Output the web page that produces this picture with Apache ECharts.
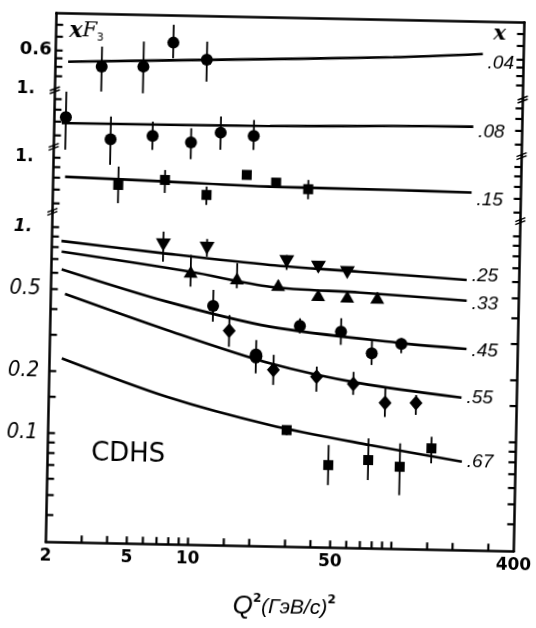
<!DOCTYPE html>
<html><head><meta charset="utf-8">
<script src="https://cdn.jsdelivr.net/npm/echarts@6/dist/echarts.min.js"></script>
<style>
html,body{margin:0;padding:0;background:#fff;overflow:hidden;width:536px;height:628px}
#c{position:absolute;left:0;top:0;width:536px;height:628px;transform:rotate(1.15deg);transform-origin:268px 314px}
</style></head><body><div id="c"></div>
<script>
// ---------------- data ----------------
const xTickVals   = [3,4,5,6,7,8,9,10,15,20,30,40,50,60,70,80,90,100,150,200,300];
const xLabelVals  = [2,5,10,50,400];
const xLabelTexts = ['2','5','10','50','400'];

const yTicks1 = [0.45,0.5,0.55,0.6,0.7,0.8];
const yLabelVals1 = [0.6];  const yLabelTexts1 = ['0.6'];
const yTicks2 = [0.6,0.7,0.8,0.9];
const yLabelVals2 = [1];    const yLabelTexts2 = ['1.'];
const yTicks3 = [0.6,0.7,0.8,0.9,1];
const yLabelVals3 = [1];    const yLabelTexts3 = ['1.'];
const yTicks4 = [0.04,0.05,0.06,0.07,0.08,0.09,0.1,0.15,0.2,0.3,0.4,0.5,0.6,0.7,0.8,0.9,1];
const yLabelVals4 = [0.1,0.2,0.5,1]; const yLabelTexts4 = ['0.1','0.2','0.5','1.'];

const binNames = ['.04','.08','.15','.25','.33','.45','.55','.67'];

// curves: [Q2, xF3]
const curve04 = [[2.31,0.531],[11.1,0.559],[91.6,0.600],[252,0.635]];
const curve08 = [[2.18,0.689],[23.0,0.699],[92.9,0.719],[230,0.726]];
const curve15 = [[2.29,0.81],[7.24,0.785],[23.4,0.759],[94.3,0.752],[229,0.743]];
const curve25 = [[2.23,0.858],[7.08,0.765],[23.8,0.687],[66,0.65],[221,0.607]];
const curve33 = [[2.24,0.761],[9.63,0.626],[23.9,0.539],[66.3,0.515],[222,0.482]];
const curve45 = [[2.25,0.625],[7.45,0.446],[24.1,0.345],[109,0.295],[224,0.281]];
const curve55 = [[2.35,0.475],[7.49,0.325],[24.3,0.229],[67.6,0.187],[214,0.163]];
const curve67 = [[2.30,0.231],[7.6,0.154],[24.6,0.115],[76.8,0.0939],[218,0.0796]];

// points: [Q2, xF3, low, high]
const pts04 = [[3.38,0.506,0.383,0.633],[5.42,0.511,0.379,0.676],[7.57,0.672,0.565,0.82],[11.1,0.559,0.438,0.685]];
const pts08 = [[2.28,0.737,0.512,0.981],[3.80,0.582,0.437,0.749],[6.11,0.609,0.521,0.715],[9.45,0.571,0.474,0.67],[13.2,0.642,0.53,0.768],[19.2,0.623,0.533,0.745]];
const pts15 = [[4.19,0.748,0.61,0.918],[7.10,0.799,0.691,0.893],[11.4,0.682,0.61,0.749],[17.9,0.861,0.83,0.90],[25.0,0.795,0.76,0.83],[36.0,0.744,0.665,0.825]];
const pts25 = [[7.07,0.839,0.696,0.973],[11.6,0.817,0.744,0.906],[28.7,0.716,0.653,0.771],[41.1,0.677,0.645,0.71],[57.1,0.642,0.614,0.67]];
const pts33 = [[9.70,0.627,0.530,0.755],[16.4,0.588,0.526,0.696],[26.2,0.551,0.525,0.58],[41.3,0.497,0.47,0.525],[57.4,0.491,0.465,0.52],[80.7,0.489,0.465,0.52]];
const pts45 = [[12.6,0.429,0.360,0.513],[33.8,0.350,0.322,0.381],[53.9,0.331,0.286,0.385],[76.7,0.262,0.230,0.304],[107,0.293,0.264,0.312]];
const pts55 = [[15.2,0.327,0.273,0.389],[20.7,0.248,0.204,0.296],[25.3,0.213,0.180,0.252],[41.3,0.199,0.1685,0.223],[62.7,0.185,0.164,0.212],[90.2,0.151,0.129,0.181],[128,0.152,0.133,0.166]];
const syms55 = ['diamond','circle','diamond','diamond','diamond','diamond','diamond'];
const pts67 = [[29.8,0.109,0.103,0.115],[48.1,0.0744,0.0595,0.0931],[75.5,0.0794,0.0635,0.1012],[108,0.0742,0.054,0.0964],[154,0.0918,0.0777,0.1045]];

// ---------------- layout (broken axis = 4 stacked grids) ----------------
const X_MIN = 2, X_MAX = 400;
const FR_LEFT = 50.4, FR_W = 468;
const gridBoxes = [{top:17.2,height:76.8},{top:94,height:56.6},{top:150.6,height:65},{top:215.6,height:330.6}];
const yRanges = [[0.387,0.913],[0.531,1.0],[0.549,1.136],[0.02964,1.193]];
const yTickSets = [yTicks1,yTicks2,yTicks3,yTicks4];
const yLabValSets = [yLabelVals1,yLabelVals2,yLabelVals3,yLabelVals4];
const yLabTxtSets = [yLabelTexts1,yLabelTexts2,yLabelTexts3,yLabelTexts4];
const TICK = 7;

function lookup(vals, texts){
  return function(v){
    for (let i=0;i<vals.length;i++){ if (Math.abs(vals[i]-v)/vals[i] < 1e-4) return texts[i]; }
    return '';
  };
}
const NARROW = '"Liberation Sans Narrow","DejaVu Sans Condensed","Liberation Sans",sans-serif';
const BOLD1 = {fontFamily:'DejaVu Sans', fontWeight:'bold', fontSize:17, color:'#000'};

const grids = gridBoxes.map(b => ({left:FR_LEFT, width:FR_W, top:b.top, height:b.height, containLabel:false, outerBoundsMode:'none'}));

const xAxes = gridBoxes.map((b,i) => ({
  type:'log', logBase:10, gridIndex:i, min:X_MIN, max:X_MAX,
  position: i===0 ? 'top' : 'bottom',
  show: (i===0 || i===3),
  axisLine:{show:true, onZero:false, lineStyle:{color:'#000', width:2.5}},
  axisTick:{show:false},
  minorTick:{show:false}, splitLine:{show:false}, minorSplitLine:{show:false},
  axisLabel:{show:i===3, customValues:xLabelVals, formatter:lookup(xLabelVals,xLabelTexts), margin:6,
             fontFamily:'DejaVu Sans', fontWeight:'bold', fontSize:17, color:'#000'}
}));

function yAx(i, right){
  const isBottom = i===3;
  const lab = lookup(yLabValSets[i], yLabTxtSets[i]);
  return {
    type:'log', logBase:10, gridIndex:i, position: right?'right':'left',
    min:yRanges[i][0], max:yRanges[i][1],
    axisLine:{show:true, onZero:false, lineStyle:{color:'#000', width:2.5}},
    axisTick:{show:false},
    minorTick:{show:false}, splitLine:{show:false}, minorSplitLine:{show:false},
    axisLabel:{
      show:!right, customValues:yLabValSets[i],
      formatter: isBottom ? (v => { const t = lab(v); return t==='1.' ? '{p|1.}' : t; }) : lab,
      margin: i===0 ? 4 : (isBottom ? 10 : 20),
      color:'#000',
      fontFamily: isBottom ? NARROW : 'DejaVu Sans',
      fontWeight: isBottom ? 'normal' : 'bold',
      fontStyle: isBottom ? 'italic' : 'normal',
      fontSize: isBottom ? 22 : (i===0 ? 18 : 17),
      rich:{p:Object.assign({padding:[0,10,0,0]}, BOLD1)}
    }
  };
}
const yAxes = [];
for (let i=0;i<4;i++){ yAxes.push(yAx(i,false)); yAxes.push(yAx(i,true)); }

// ---------------- series ----------------
const bins = [
  {curve:curve04, pts:pts04, g:0, sym:'circle',   size:12,      rot:0,   off:[2,9]},
  {curve:curve08, pts:pts08, g:1, sym:'circle',   size:12,      rot:0,   off:[2,5]},
  {curve:curve15, pts:pts15, g:2, sym:'rect',     size:10,      rot:0,   off:[2,7]},
  {curve:curve25, pts:pts25, g:3, sym:'triangle', size:[15,13], rot:180, off:[2,-4]},
  {curve:curve33, pts:pts33, g:3, sym:'triangle', size:[14,12], rot:0,   off:[2,3]},
  {curve:curve45, pts:pts45, g:3, sym:'circle',   size:12,      rot:0,   off:[2,2]},
  {curve:curve55, pts:pts55, g:3, sym:(v,p)=>syms55[p.dataIndex], size:[13,15], rot:0, off:[2,0]},
  {curve:curve67, pts:pts67, g:3, sym:'rect',     size:10,      rot:0,   off:[2,0]}
];

function errItem(params, api){
  const x = api.value(0), lo = api.value(2), hi = api.value(3);
  const a = api.coord([x, lo]), b = api.coord([x, hi]);
  return {type:'line', shape:{x1:a[0], y1:a[1], x2:b[0], y2:b[1]}, style:{stroke:'#000', lineWidth:1.8}};
}

const series = [];
bins.forEach((b, k) => {
  series.push({
    type:'line', name:binNames[k], xAxisIndex:b.g, yAxisIndex:2*b.g,
    data:b.curve, smooth:0.3, symbol:'none', silent:true, z:2,
    lineStyle:{color:'#000', width:2.6},
    endLabel:{show:true, formatter:binNames[k], distance:3, offset:b.off,
              color:'#000', fontSize:19, fontStyle:'italic', fontFamily:'"Liberation Sans",sans-serif'}
  });
  series.push({
    type:'custom', xAxisIndex:b.g, yAxisIndex:2*b.g, data:b.pts, renderItem:errItem, z:3, silent:true
  });
  series.push({
    type:'scatter', xAxisIndex:b.g, yAxisIndex:2*b.g,
    data:b.pts.map(p => [p[0], p[1]]),
    symbol:b.sym, symbolSize:b.size, symbolRotate:b.rot, z:4, silent:true,
    itemStyle:{color:'#000', opacity:1}
  });
});

// ---------------- decorations ----------------
const graphic = [];
const breakYs = [94, 150.6, 215.6];
[FR_LEFT, FR_LEFT+FR_W].forEach(x => {
  breakYs.forEach(y => {
    graphic.push({type:'line', shape:{x1:x-5, y1:y+1, x2:x+5, y2:y-3}, style:{stroke:'#000', lineWidth:1.4}, z:10});
    graphic.push({type:'line', shape:{x1:x-5, y1:y+4, x2:x+5, y2:y}, style:{stroke:'#000', lineWidth:1.4}, z:10});
  });
});
graphic.push({type:'text', x:81, y:35, z:10, style:{
  text:'{x|x}{f|F}{s|3}', align:'center', verticalAlign:'middle',
  rich:{
    x:{fontFamily:'DejaVu Serif', fontStyle:'italic', fontWeight:'bold', fontSize:22, fill:'#000', lineHeight:24},
    f:{fontFamily:'DejaVu Serif', fontStyle:'italic', fontSize:21, fill:'#000', lineHeight:24},
    s:{fontFamily:'DejaVu Sans', fontSize:11, fill:'#000', verticalAlign:'bottom', lineHeight:12}
  }}});
graphic.push({type:'text', x:494, y:30, z:10, style:{
  text:'x', align:'center', verticalAlign:'middle',
  fontFamily:'DejaVu Serif', fontStyle:'italic', fontWeight:'bold', fontSize:21, fill:'#000'}});
graphic.push({type:'text', x:131, y:457, z:10, style:{
  text:'CDHS', align:'center', verticalAlign:'middle',
  fontFamily:'DejaVu Sans', fontSize:26, fill:'#000'}});
graphic.push({type:'text', x:290, y:607, z:10, style:{
  text:'{q|Q}{s|2}{t|(ГэВ/c)}{s|2}', align:'center', verticalAlign:'middle',
  rich:{
    q:{fontFamily:'Liberation Sans', fontStyle:'italic', fontSize:26, fill:'#000', lineHeight:28},
    t:{fontFamily:'Liberation Sans', fontStyle:'italic', fontSize:21, fill:'#000', lineHeight:28},
    s:{fontFamily:'DejaVu Sans', fontWeight:'bold', fontSize:12, fill:'#000', verticalAlign:'top', lineHeight:12}
  }}});

const chart = echarts.init(document.getElementById('c'), null, {renderer:'canvas', width:536, height:628});
chart.setOption({
  animation:false,
  backgroundColor:'#fff',
  textStyle:{fontFamily:'DejaVu Sans'},
  grid:grids, xAxis:xAxes, yAxis:yAxes, series:series
});

// ---------------- inward tick marks, positioned through each grid's axes ----------------
function px(gi, x, y){
  let p = null;
  try { p = chart.convertToPixel({gridIndex:gi}, [x, y]); } catch (e) { p = null; }
  const b = gridBoxes[gi], r = yRanges[gi], L = Math.log10;
  const ok = p && isFinite(p[0]) && isFinite(p[1]) &&
             p[0] > FR_LEFT - 2 && p[0] < FR_LEFT + FR_W + 2 &&
             p[1] > b.top - 2 && p[1] < b.top + b.height + 2;
  if (!ok) {
    const fx = (L(x) - L(X_MIN)) / (L(X_MAX) - L(X_MIN));
    const fy = (L(r[1]) - L(y)) / (L(r[1]) - L(r[0]));
    p = [FR_LEFT + fx * FR_W, b.top + fy * b.height];
  }
  return [p[0], p[1]];
}
yTickSets.forEach((ticks, i) => {
  ticks.forEach(v => {
    const a = px(i, X_MIN, v), b = px(i, X_MAX, v);
    graphic.push({type:'line', z:11, shape:{x1:a[0], y1:a[1], x2:a[0] + TICK, y2:a[1]}, style:{stroke:'#000', lineWidth:2.2}});
    graphic.push({type:'line', z:11, shape:{x1:b[0] - TICK, y1:b[1], x2:b[0], y2:b[1]}, style:{stroke:'#000', lineWidth:2.2}});
  });
});
xTickVals.forEach(v => {
  const a = px(3, v, yRanges[3][0]);
  graphic.push({type:'line', z:11, shape:{x1:a[0], y1:a[1], x2:a[0], y2:a[1] - TICK}, style:{stroke:'#000', lineWidth:2.2}});
});
chart.setOption({graphic:{elements:graphic}});
</script></body></html>
